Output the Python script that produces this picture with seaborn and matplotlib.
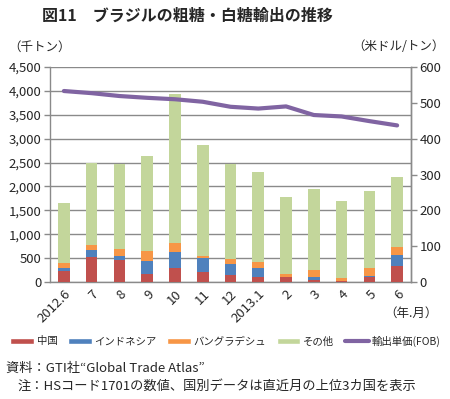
import numpy as np
import pandas as pd
import matplotlib
matplotlib.use("Agg")
import matplotlib.pyplot as plt
import seaborn as sns
from matplotlib.patches import Patch
from matplotlib.lines import Line2D

months = ["2012.6", "7", "8", "9", "10", "11", "12", "2013.1", "2", "3", "4", "5", "6"]
china = [230, 520, 470, 175, 300, 210, 140, 100, 100, 35, 20, 95, 340]
indonesia = [60, 140, 70, 275, 320, 300, 230, 190, 10, 65, 5, 35, 215]
bangladesh = [100, 110, 160, 190, 205, 30, 110, 120, 50, 150, 60, 160, 180]
other = [1260, 1720, 1760, 2000, 3115, 2330, 1980, 1890, 1620, 1690, 1605, 1610, 1465]
price = [533, 527, 519, 514, 510, 503, 489, 484, 490, 466, 462, 449, 437]

sns.set_theme(style="white")
plt.rcParams['font.family'] = ['Noto Sans CJK JP', 'DejaVu Sans']

df = pd.DataFrame({"month": months, "china": china, "indonesia": indonesia,
                   "bangladesh": bangladesh, "other": other})
df["c1"] = df["china"]
df["c2"] = df["c1"] + df["indonesia"]
df["c3"] = df["c2"] + df["bangladesh"]
df["c4"] = df["c3"] + df["other"]

col_china = "#C0504D"
col_indo = "#4F81BD"
col_bang = "#F79646"
col_other = "#C3D69B"
col_line = "#8064A2"

fig = plt.figure(figsize=(4.5, 3.99), dpi=100)
ax = fig.add_axes([50/450, 1-282/399, 361/450, 215/399])

for col, c in [("c4", col_other), ("c3", col_bang), ("c2", col_indo), ("c1", col_china)]:
    sns.barplot(data=df, x="month", y=col, color=c, width=0.42, ax=ax,
                saturation=1, edgecolor="none", linewidth=0, zorder=3)

ax.set_ylim(0, 4500)
ax.set_yticks(np.arange(0, 4501, 500))
ax.set_yticklabels([f"{v:,}" for v in range(0, 4501, 500)], fontsize=9.5)
ax.set_xlim(-0.5, len(months) - 0.5)
ax.set_xlabel("")
ax.set_ylabel("")
ax.grid(axis="y", color="#8a8a8a", linewidth=1.0, zorder=0)
ax.set_axisbelow(True)
ax.spines["top"].set_visible(False)
for s in ["left", "right", "bottom"]:
    ax.spines[s].set_color("#8a8a8a")
    ax.spines[s].set_linewidth(1.0)
ax.set_xticks(np.arange(len(months)))
ax.set_xticklabels(months, rotation=45, ha="right", rotation_mode="anchor", fontsize=9.5)
ax.tick_params(axis="x", length=0, pad=4)
ax.set_xticks(np.arange(-0.5, len(months) + 0.5, 1), minor=True)
ax.tick_params(axis="x", which="minor", length=5, color="#8a8a8a", width=1)
ax.tick_params(axis="y", length=4, color="#8a8a8a", width=1, left=True, pad=2)

ax2 = ax.twinx()
sns.lineplot(x=np.arange(len(months)), y=price, color=col_line, linewidth=3, ax=ax2, zorder=5)
ax2.set_ylim(0, 600)
ax2.set_yticks(np.arange(0, 601, 100))
ax2.set_yticklabels([str(v) for v in range(0, 601, 100)], fontsize=9.5)
ax2.tick_params(axis="y", length=4, color="#8a8a8a", width=1, right=True, pad=2)
for s in ["top", "left", "bottom"]:
    ax2.spines[s].set_visible(False)
ax2.spines["right"].set_color("#8a8a8a")
ax2.spines["right"].set_linewidth(1.0)
ax2.set_ylabel("")

fig.text(42/450, 1-16/399, "図11　ブラジルの粗糖・白糖輸出の推移", fontsize=11.5, fontweight="bold",
         va="center", ha="left")
fig.text(8/450, 1-47/399, "（千トン）", fontsize=9, va="center", ha="left")
fig.text(445/450, 1-47/399, "（米ドル/トン）", fontsize=9, va="center", ha="right")
fig.text(438/450, 1-313/399, "（年.月）", fontsize=9, va="center", ha="right")

handles = [Patch(facecolor=col_china, label="中国"),
           Patch(facecolor=col_indo, label="インドネシア"),
           Patch(facecolor=col_bang, label="バングラデシュ"),
           Patch(facecolor=col_other, label="その他"),
           Line2D([0], [0], color=col_line, linewidth=3, label="輸出単価(FOB)")]
fig.legend(handles=handles, loc="center", bbox_to_anchor=(0.5, 1-341/399), ncol=5,
           frameon=False, fontsize=7.5, handlelength=2.3, handleheight=0.55,
           handletextpad=0.25, columnspacing=1.0, borderpad=0.1, borderaxespad=0)

fig.text(6/450, 1-368/399, "資料：GTI社“Global Trade Atlas”", fontsize=9.5, va="center", ha="left")
fig.text(18/450, 1-386/399, "注：HSコード1701の数値、国別データは直近月の上位3カ国を表示", fontsize=9.5,
         va="center", ha="left")

fig.savefig("out.png", dpi=100)
